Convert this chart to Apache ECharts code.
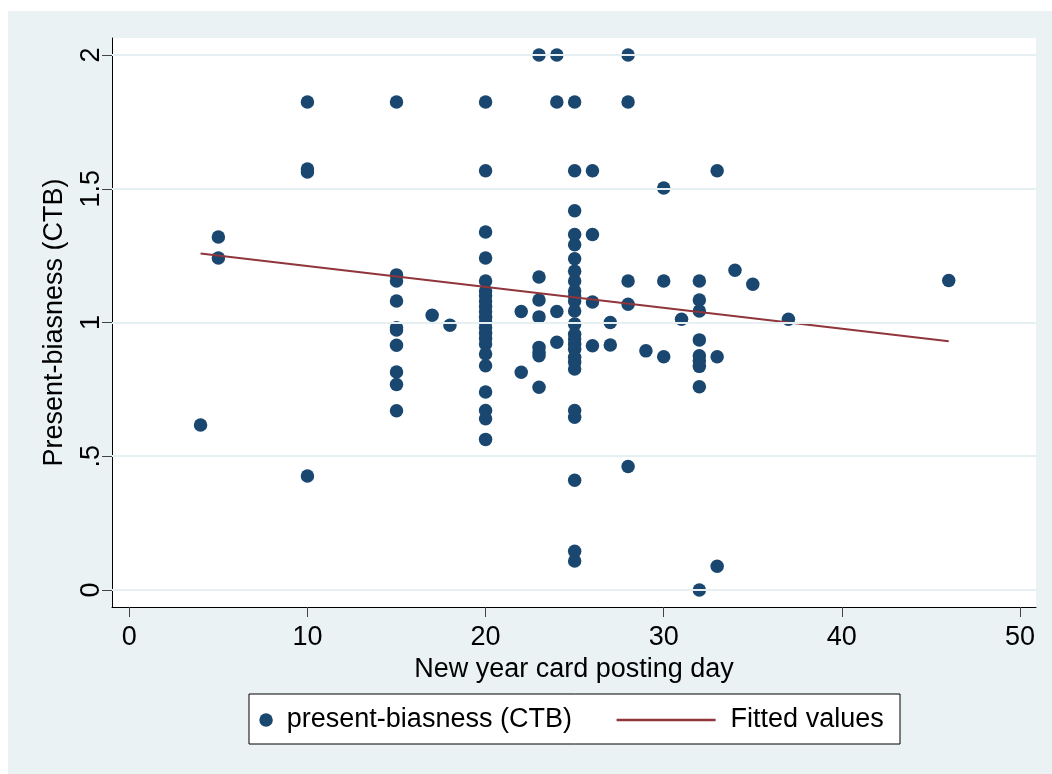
<!DOCTYPE html>
<html>
<head>
<meta charset="utf-8">
<script src="https://cdn.jsdelivr.net/npm/echarts@6/dist/echarts.min.js"></script>
<style>
  html, body { margin: 0; padding: 0; background: #ffffff; }
  #chart { width: 1052px; height: 774px; }
</style>
</head>
<body>
<div id="chart"></div>
<script>
// ---- data ----
const day = [
  4,
  5, 5,
  10, 10, 10, 10,
  15, 15, 15, 15, 15, 15, 15, 15, 15, 15,
  17,
  18,
  20, 20, 20, 20, 20, 20, 20, 20, 20, 20, 20, 20, 20, 20, 20, 20, 20, 20, 20, 20, 20, 20,
  22, 22,
  23, 23, 23, 23, 23, 23, 23, 23,
  24, 24, 24, 24,
  25, 25, 25, 25, 25, 25, 25, 25, 25, 25, 25, 25, 25, 25, 25, 25, 25, 25, 25, 25, 25, 25, 25, 25, 25,
  26, 26, 26, 26,
  27, 27,
  28, 28, 28, 28, 28,
  29,
  30, 30, 30,
  31,
  32, 32, 32, 32, 32, 32, 32, 32, 32,
  33, 33, 33,
  34,
  35,
  37,
  46
];
const bias = [
  0.617,
  1.320, 1.241,
  1.824, 1.574, 1.563, 0.426,
  1.824, 1.178, 1.155, 1.080, 0.980, 0.972, 0.915, 0.815, 0.768, 0.670,
  1.027,
  0.990,
  1.824, 1.567, 1.338, 1.241, 1.155, 1.118, 1.100, 1.080, 1.060, 1.040, 1.020, 1.000, 0.980, 0.960, 0.940, 0.920, 0.882, 0.838, 0.740, 0.671, 0.640, 0.563,
  1.041, 0.814,
  2.000, 1.170, 1.084, 1.021, 0.907, 0.888, 0.876, 0.758,
  2.000, 1.824, 1.041, 0.926,
  1.824, 1.567, 1.418, 1.329, 1.291, 1.238, 1.192, 1.155, 1.118, 1.099, 1.080, 1.043, 0.994, 0.956, 0.938, 0.919, 0.900, 0.870, 0.851, 0.826, 0.671, 0.646, 0.410, 0.145, 0.108,
  1.567, 1.329, 1.077, 0.913,
  1.000, 0.916,
  2.000, 1.824, 1.155, 1.068, 0.462,
  0.894,
  1.503, 1.155, 0.872,
  1.012,
  1.155, 1.084, 1.043, 0.935, 0.876, 0.857, 0.836, 0.760, 0.000,
  1.567, 0.872, 0.089,
  1.195,
  1.143,
  1.012,
  1.157
];
const fitDay = [4, 46];
const fitValue = [1.258, 0.930];

const xTicks = [0, 10, 20, 30, 40, 50];
const yTicks = [0, 0.5, 1, 1.5, 2];
const yTickLabels = ['0', '.5', '1', '1.5', '2'];
const xRange = [-0.971, 50.898];
const yRange = [-0.0636, 2.0636];

const scatterName = 'present-biasness (CTB)';
const fitName = 'Fitted values';
const xTitle = 'New year card posting day';
const yTitle = 'Present-biasness (CTB)';

// ---- build ----
const FONT = 'Liberation Sans, Arial, sans-serif';
const NAVY = '#1A476F';
const MAROON = '#90353B';
const BG = '#EAF2F3';

const scatterData = day.map((d, i) => [d, bias[i]]);
const fitData = fitDay.map((d, i) => [d, fitValue[i]]);

const chart = echarts.init(document.getElementById('chart'), null, { renderer: 'canvas' });

chart.setOption({
  backgroundColor: BG,
  animation: false,
  graphic: [
    { type: 'rect', left: 0, top: 0, shape: { width: 1052, height: 11 }, style: { fill: '#ffffff' }, silent: true },
    { type: 'rect', left: 0, top: 0, shape: { width: 8, height: 774 }, style: { fill: '#ffffff' }, silent: true },
    { type: 'rect', left: 248.5, top: 693.5, shape: { width: 651, height: 50 },
      style: { fill: '#ffffff', stroke: '#000000', lineWidth: 1 }, silent: true, z: 1 }
  ],
  grid: {
    left: 112, top: 38, width: 924, height: 569,
    show: true, backgroundColor: '#ffffff', borderWidth: 0
  },
  legend: [
    {
      data: [scatterName],
      left: 259.3, top: 706.5, padding: 0,
      itemWidth: 13.5, itemHeight: 13.5,
      icon: 'circle',
      textStyle: { fontFamily: FONT, fontSize: 27, color: '#000', padding: [0, 0, 0, 9] },
      selectedMode: false
    },
    {
      data: [fitName],
      left: 616.6, top: 706.5, padding: 0,
      itemWidth: 99, itemHeight: 2.5,
      icon: 'rect',
      itemStyle: { color: MAROON },
      textStyle: { fontFamily: FONT, fontSize: 27, color: '#000', padding: [0, 0, 0, 10] },
      selectedMode: false
    }
  ],
  xAxis: {
    type: 'value',
    min: xRange[0], max: xRange[1],
    name: xTitle, nameLocation: 'middle', nameGap: 40,
    nameTextStyle: { fontFamily: FONT, fontSize: 27, color: '#000' },
    axisLine: { show: true, onZero: false, lineStyle: { color: '#000', width: 1 } },
    axisTick: { show: true, inside: false, length: 10, customValues: xTicks, lineStyle: { color: '#444', width: 1 } },
    axisLabel: { customValues: xTicks, margin: 17, fontFamily: FONT, fontSize: 27, color: '#000' },
    splitLine: { show: false }
  },
  yAxis: {
    type: 'value',
    min: yRange[0], max: yRange[1],
    name: yTitle, nameLocation: 'middle', nameGap: 44, nameRotate: 90,
    nameTextStyle: { fontFamily: FONT, fontSize: 27, color: '#000' },
    axisLine: { show: true, onZero: false, lineStyle: { color: '#000', width: 1 } },
    axisTick: { show: true, inside: false, length: 10, customValues: yTicks, lineStyle: { color: '#444', width: 1 } },
    axisLabel: {
      customValues: yTicks, rotate: 90, margin: 7,
      fontFamily: FONT, fontSize: 27, color: '#000',
      formatter: function (v) {
        const i = yTicks.findIndex(t => Math.abs(t - v) < 1e-9);
        return i >= 0 ? yTickLabels[i] : '';
      }
    },
    splitLine: { show: false }
  },
  series: [
    {
      name: 'grid',
      type: 'line',
      data: [],
      z: 1,
      silent: true,
      markLine: {
        silent: true,
        symbol: ['none', 'none'],
        label: { show: false },
        lineStyle: { color: '#E6EFF1', width: 2, type: 'solid' },
        emphasis: { disabled: true },
        data: yTicks.map(v => ({ yAxis: v }))
      }
    },
    {
      name: scatterName,
      type: 'scatter',
      data: scatterData,
      symbol: 'circle',
      symbolSize: 13.5,
      itemStyle: { color: NAVY, opacity: 1 },
      z: 3
    },
    {
      name: fitName,
      type: 'line',
      data: fitData,
      symbol: 'none',
      showSymbol: false,
      lineStyle: { color: MAROON, width: 2.2 },
      itemStyle: { color: MAROON },
      z: 4
    }
  ]
});
</script>
</body>
</html>
